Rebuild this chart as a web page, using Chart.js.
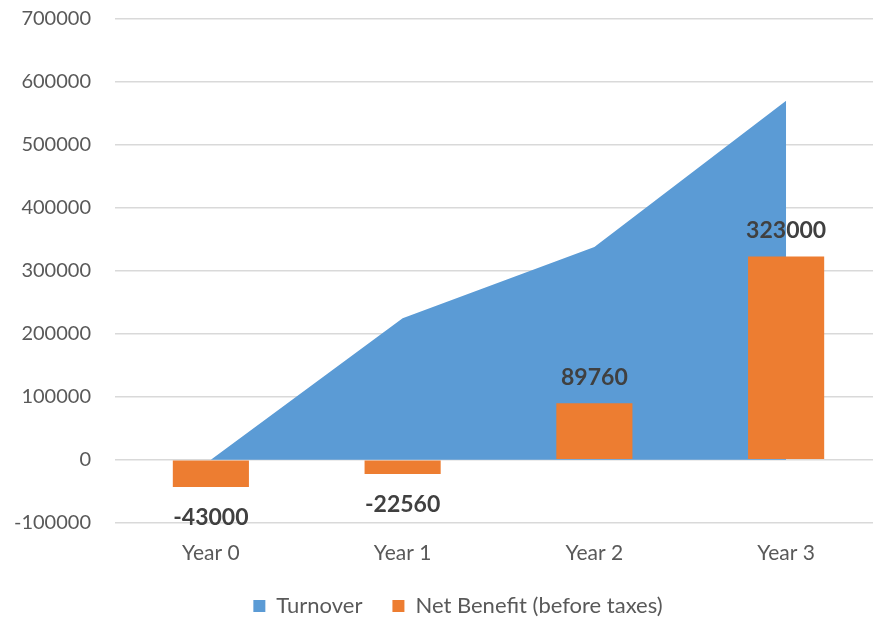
<!DOCTYPE html>
<html>
<head>
<meta charset="utf-8">
<script src="https://cdn.jsdelivr.net/npm/chart.js@4.4.1/dist/chart.umd.min.js"></script>
<style>
  html, body { margin: 0; padding: 0; background: #ffffff; overflow: hidden; }
  #wrap { width: 873px; height: 623px; overflow: hidden; }
  canvas { display: block; }
</style>
</head>
<body>
<div id="wrap"><canvas id="chart" width="916" height="623"></canvas></div>
<script>
// Years on the horizontal axis
const categories = ['Year 0', 'Year 1', 'Year 2', 'Year 3'];
// Turnover per year (area)
const turnover = [0, 225000, 338000, 570000];
// Net benefit before taxes per year (bars)
const netBenefit = [-43000, -22560, 89760, 323000];
// Value axis range and tick step
const yMin = -100000;
const yMax = 700000;
const yStep = 100000;

const FONT = 'Lato, "Open Sans", sans-serif';
const TEXT = '#595959';

// Writes each bar's value above (positive) or below (negative) the bar.
const barValueLabels = {
  id: 'barValueLabels',
  afterDatasetsDraw(chart) {
    const ctx = chart.ctx;
    chart.data.datasets.forEach((ds, i) => {
      if (ds.type !== 'bar') return;
      const meta = chart.getDatasetMeta(i);
      meta.data.forEach((bar, j) => {
        const v = ds.data[j];
        ctx.save();
        ctx.font = 'bold 23px ' + FONT;
        ctx.fillStyle = '#404040';
        ctx.textAlign = 'center';
        ctx.textBaseline = 'middle';
        const y = v >= 0 ? bar.y - 26 : bar.y + 31;
        ctx.fillText(String(v), bar.x, y);
        ctx.restore();
      });
    });
  }
};

new Chart(document.getElementById('chart'), {
  data: {
    labels: categories,
    datasets: [
      {
        type: 'line',
        label: 'Turnover',
        data: turnover,
        backgroundColor: '#5B9BD5',
        borderColor: '#5B9BD5',
        borderWidth: 0,
        pointRadius: 0,
        tension: 0,
        fill: 'origin',
        order: 2
      },
      {
        type: 'bar',
        label: 'Net Benefit (before taxes)',
        data: netBenefit,
        backgroundColor: '#ED7D31',
        borderWidth: 0,
        categoryPercentage: 1,
        barPercentage: 0.397,
        order: 1
      }
    ]
  },
  options: {
    responsive: false,
    animation: false,
    layout: { padding: { top: 19, right: 0, bottom: -4, left: 0 } },
    plugins: {
      tooltip: { enabled: false },
      legend: {
        position: 'bottom',
        labels: {
          boxWidth: 12,
          boxHeight: 12,
          padding: 30,
          color: TEXT,
          font: { family: FONT, size: 22 },
          sort: (a, b) => a.datasetIndex - b.datasetIndex
        }
      }
    },
    scales: {
      x: {
        grid: { display: false, drawTicks: false },
        border: { display: false },
        ticks: { color: TEXT, font: { family: FONT, size: 21 }, padding: 18 },
        afterFit(scale) { scale.height -= 19; }
      },
      y: {
        min: yMin,
        max: yMax,
        grid: { color: '#d9d9d9', lineWidth: 1.5, drawTicks: false },
        border: { display: false },
        ticks: {
          stepSize: yStep,
          color: TEXT,
          font: { family: FONT, size: 20 },
          padding: 24,
          callback: v => String(v)
        },
        afterFit(scale) {
          scale.width = 115;
          scale.paddingTop = 0;
          scale.paddingBottom = 0;
        }
      },
      // empty right-hand margin of the plot area
      yRight: {
        position: 'right',
        grid: { display: false, drawTicks: false },
        border: { display: false },
        ticks: { display: false },
        afterFit(scale) {
          scale.width = 34;
          scale.paddingTop = 0;
          scale.paddingBottom = 0;
        }
      }
    }
  },
  plugins: [barValueLabels]
});
</script>
</body>
</html>
